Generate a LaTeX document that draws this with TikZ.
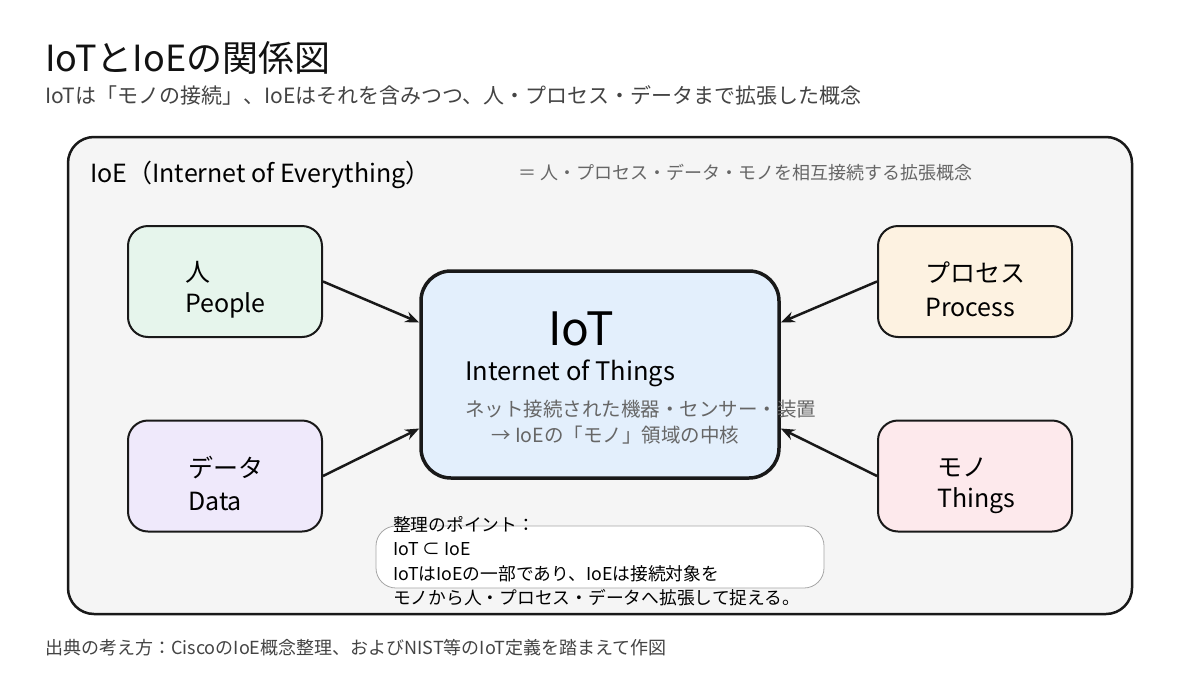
\documentclass[tikz,border=0pt]{standalone}
\usepackage{fontspec}
\setmainfont{Noto Sans CJK JP}
\usetikzlibrary{arrows.meta}
\definecolor{bgpanel}{HTML}{F5F5F5}
\definecolor{iotfill}{HTML}{E3EFFC}
\definecolor{pplfill}{HTML}{E6F5EC}
\definecolor{datfill}{HTML}{EFE9FB}
\definecolor{procfill}{HTML}{FDF2E1}
\definecolor{thgfill}{HTML}{FDE9EC}
\definecolor{subgray}{HTML}{444444}
\definecolor{midgray}{HTML}{666666}
\tikzset{
  fs/.code args={#1/#2}{\fontsize{#1}{#2}\selectfont},
  sidebox/.style={draw=black!90,line width=2pt,rounded corners=20pt,minimum width=194pt,minimum height=111pt,inner sep=0pt},
  lbl/.style={anchor=west,inner sep=0pt,fs=25/28},
  arr/.style={line width=2.5pt,black!90,-{Stealth[length=14pt,width=11pt]}},
}
\begin{document}
\begin{tikzpicture}[x=1pt,y=-1pt]
    \useasboundingbox[fill=white] (0,0) rectangle (1200,675);
    \node[anchor=west,inner sep=0pt,fs=36/40,text=black!93] (title) at (45,58) {IoTとIoEの関係図};
    \node[anchor=west,inner sep=0pt,fs=21/24,text=subgray] (subtitle) at (45,95) {IoTは「モノの接続」、IoEはそれを含みつつ、人・プロセス・データまで拡張した概念};
    % outer IoE panel
    \node[draw=black!90,fill=bgpanel,line width=2.5pt,rounded corners=26pt,minimum width=1064pt,minimum height=477pt] (ioe) at (600,375.5) {};
    \node[anchor=west,inner sep=0pt,fs=25/28] (ioelab) at (90,175) {IoE（Internet of Everything）};
    \node[anchor=west,inner sep=0pt,fs=18/20,text=midgray] (ioedesc) at (518,173) {＝ 人・プロセス・データ・モノを相互接続する拡張概念};
    % four surrounding boxes
    \node[sidebox,fill=pplfill] (people) at (225,281.5) {};
    \node[sidebox,fill=datfill] (data) at (225,476) {};
    \node[sidebox,fill=procfill] (process) at (975,281.5) {};
    \node[sidebox,fill=thgfill] (things) at (975,476) {};
    \node[lbl] (pplja) at (185,272) {人};
    \node[lbl] (pplen) at (185,305) {People};
    \node[lbl] (datja) at (188,468) {データ};
    \node[lbl] (daten) at (188,501) {Data};
    \node[lbl] (procja) at (925,273) {プロセス};
    \node[lbl] (procen) at (925,307) {Process};
    \node[lbl] (thgja) at (937,467) {モノ};
    \node[lbl] (thgen) at (937,501) {Things};
    % central IoT box
    \node[draw=black!90,fill=iotfill,line width=3.5pt,rounded corners=30pt,minimum width=358pt,minimum height=207pt] (iot) at (600,374.5) {};
    \node[anchor=west,inner sep=0pt,fs=46/50] (iotbig) at (548,329) {IoT};
    \node[anchor=west,inner sep=0pt,fs=25.5/30] (iotfull) at (465,373) {Internet of Things};
    \node[anchor=west,inner sep=0pt,fs=19.5/20,text=midgray] (iotd1) at (465,409) {ネット接続された機器・センサー・装置};
    \node[anchor=west,inner sep=0pt,fs=19.5/20,text=midgray] (iotd2) at (491,435) {→ IoEの「モノ」領域の中核};
    \draw[arr] (people.east) -- ([yshift=52pt]iot.west);
    \draw[arr] (data.east) -- ([yshift=-54pt]iot.west);
    \draw[arr] (process.west) -- ([yshift=52pt]iot.east);
    \draw[arr] (things.west) -- ([yshift=-54pt]iot.east);
    % note
    \node[draw=black!35,fill=white,line width=0.8pt,rounded corners=20pt,minimum width=448pt,minimum height=62pt] (notebox) at (600,557) {};
    \node[anchor=north west,inner sep=0pt,align=left,fs=17.75/24.5] (notetxt) at (393,516) {整理のポイント：\\IoT ⊂ IoE\\IoTはIoEの一部であり、IoEは接続対象を\\モノから人・プロセス・データへ拡張して捉える。};
    \node[anchor=west,inner sep=0pt,fs=18/20,text=subgray] (source) at (45,648) {出典の考え方：CiscoのIoE概念整理、およびNIST等のIoT定義を踏まえて作図};
\end{tikzpicture}
\end{document}
